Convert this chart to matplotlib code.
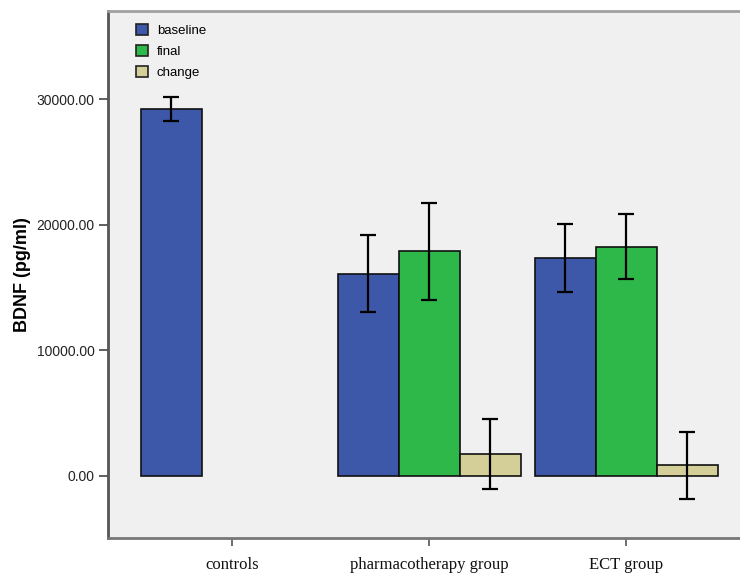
import numpy as np
import matplotlib
matplotlib.use("Agg")
import matplotlib.pyplot as plt

# data
groups = ["controls", "pharmacotherapy group", "ECT group"]
series = ["baseline", "final", "change"]
baseline = [29250, 16120, 17370]
baseline_err = [985, 3090, 2680]
final = [np.nan, 17900, 18280]
final_err = [np.nan, 3850, 2600]
change = [np.nan, 1760, 850]
change_err = [np.nan, 2770, 2660]
yticks = [0, 10000, 20000, 30000]

colors = ["#3d57a9", "#2fb84a", "#d4cf99"]

fig = plt.figure(figsize=(7.4, 5.74), dpi=100)
fig.patch.set_facecolor("white")
ax = fig.add_axes([108 / 740, 1 - 538 / 574, 634 / 740, 527 / 574])
ax.set_facecolor("#f0f0f0")

gap = 197 / 61
x = np.arange(len(groups)) * gap
vals = [baseline, final, change]
errs = [baseline_err, final_err, change_err]
for i, name in enumerate(series):
    ax.bar(x + (i - 1), vals[i], width=1.0, color=colors[i], edgecolor="#111111",
           linewidth=1.2, label=name, zorder=2)
    ax.errorbar(x + (i - 1), vals[i], yerr=errs[i], fmt="none", ecolor="black",
                elinewidth=1.6, capsize=6, capthick=1.6, zorder=3)

ax.set_xlim(-124.4 / 61, (742 - 232.4) / 61)
ax.set_ylim(-4950, 37050)

ax.set_yticks(yticks)
ax.set_yticklabels(["%.2f" % v for v in yticks], fontsize=10, family="Liberation Sans",
                   color="#222222")
ax.set_xticks(x)
ax.set_xticklabels(groups, fontsize=12, family="Liberation Serif", color="#111111")
ax.tick_params(axis="y", length=6.5, width=1.2, color="#444444", pad=3)
ax.tick_params(axis="x", length=6, width=1.2, color="#555555", pad=8)

ax.set_ylabel("BDNF (pg/ml)", fontsize=13, fontweight="bold", family="Liberation Sans",
              labelpad=4)

ax.spines["left"].set_color("#555555")
ax.spines["left"].set_linewidth(2)
ax.spines["top"].set_color("#a0a0a0")
ax.spines["top"].set_linewidth(2)
ax.spines["bottom"].set_color("#777777")
ax.spines["bottom"].set_linewidth(2)
ax.spines["right"].set_visible(False)

leg = ax.legend(loc="upper left", bbox_to_anchor=(0.026, 0.997), frameon=False,
                prop={"family": "Liberation Sans", "size": 9.5},
                handlelength=0.85, handleheight=0.85, handletextpad=0.7, labelspacing=0.62)
for h in leg.legend_handles:
    h.set_edgecolor("#222222")

fig.savefig("out.png", dpi=100)
